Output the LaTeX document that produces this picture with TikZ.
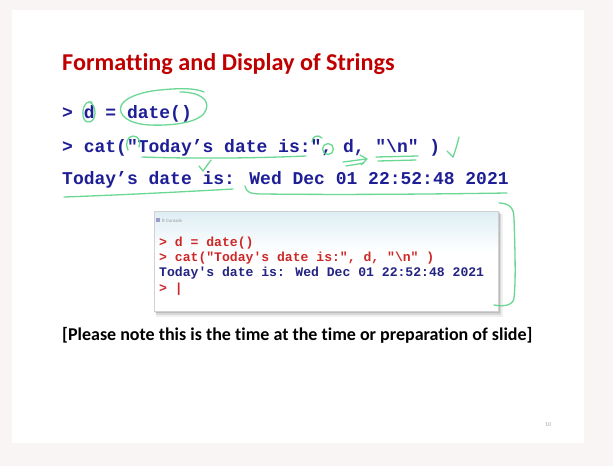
\documentclass[tikz,border=0pt]{standalone}
\usepackage{fontspec}
\setmainfont{Carlito}[Ligatures={TeX,NoCommon}]
\newfontfamily\codefont{Liberation Mono}

\definecolor{slidered}{RGB}{192,0,0}
\definecolor{codeblue}{RGB}{30,30,150}
\definecolor{pengreen}{RGB}{90,212,135}
\definecolor{conred}{RGB}{205,40,40}
\definecolor{conblue}{RGB}{35,35,130}
\definecolor{marginbg}{RGB}{250,245,245}
\definecolor{bartop}{RGB}{222,238,244}

\begin{document}
\begin{tikzpicture}[x=1pt,y=-1pt,
  txt/.style={inner sep=0pt, anchor=base west},
  codeline/.style={txt, font=\codefont\bfseries\fontsize{18}{20}\selectfont, text=codeblue},
  conline/.style={txt, font=\codefont\bfseries\fontsize{13.1}{15}\selectfont},
  pen/.style={draw=pengreen, line width=1.3pt, line cap=round, line join=round, opacity=0.9}
]
\useasboundingbox (0,0) rectangle (613,466);

% page and slide
\fill[marginbg] (0,0) rectangle (613,466);
\fill[white] (12,10) rectangle (584,443);

% title
\node[txt, font=\bfseries\fontsize{24.2}{28}\selectfont, text=slidered] (title) at (62,70)
  {Formatting and Display of Strings};

% code lines
\node[codeline] (l1) at (62,118) {> d = date()};
\node[codeline] (l2) at (62,152) {> cat("Today’s date is:", d, "\textbackslash n" )};
\node[codeline] (l3) at (62,184) {Today’s date is: Wed Dec 01 22:52:48 2021};

% console window with its drop shadow
\fill[black, opacity=0.06] (156,214) rectangle (503,317);
\fill[black, opacity=0.10] (156,213) rectangle (501,315);
\fill[black, opacity=0.12] (155,212) rectangle (500,313);
\fill[white] (154,211) rectangle (498,311);
\shade[top color=bartop, bottom color=white] (154,211) rectangle (498,252);
\draw[black!18, line width=0.4pt] (154,211) rectangle (498,311);
\fill[conblue!45] (156,218) rectangle (160,222);
\node[txt, font=\fontsize{5}{6}\selectfont, text=black!40] (contitle) at (162,222) {R Console};

\node[conline, text=conred] (c1) at (159,246) {> d = date()};
\node[conline, text=conred] (c2) at (159,261) {> cat("Today's date is:", d, "\textbackslash n" )};
\node[conline, text=conblue] (c3) at (159,276) {Today's date is: Wed Dec 01 22:52:48 2021};
\node[conline, text=conred] (c4) at (159,292) {> |};

% note and page number
\node[txt, font=\bfseries\fontsize{18}{21}\selectfont] (note) at (62,340)
  {[Please note this is the time at the time or preparation of slide]};
\node[txt, font=\fontsize{6}{7}\selectfont, text=black!35] (pgno) at (545,426) {10};

% pen marks
\draw[pen] (92,102) .. controls (84,100) and (81,112) .. (84,119) .. controls (87,125) and (95,122) .. (95,113) .. controls (95,108) and (93,104) .. (90,102);
\draw[pen] (180,92) .. controls (200,92) and (210,100) .. (206,110) .. controls (202,122) and (175,126) .. (150,125) .. controls (128,124) and (118,115) .. (121,106) .. controls (124,98) and (140,92) .. (160,90) .. controls (180,88) and (195,88) .. (204,92);
\draw[pen] (128,150) .. controls (125,145) and (127,136) .. (133,136) .. controls (139,136) and (141,142) .. (139,147);
\draw[pen] (142,157) .. controls (200,159) and (260,158) .. (306,156);
\draw[pen] (211,160) -- (203,171) -- (199,166);
\draw[pen] (312,142) .. controls (312,136) and (318,134) .. (322,138);
\draw[pen] (328,149) circle[radius=5.5];
\draw[pen] (343,162) -- (366,159);
\draw[pen] (346,166) -- (364,163);
\draw[pen] (360,155) -- (367,159) -- (361,165);
\draw[pen] (376,157) -- (418,156);
\draw[pen] (378,161) -- (416,160);
\draw[pen] (459,137) .. controls (457,145) and (455,152) .. (453,157);
\draw[pen] (447,151) -- (453,157);
\draw[pen] (64,197) .. controls (120,195) and (180,192) .. (233,189);
\draw[pen] (245,186) .. controls (246,192) and (250,194) .. (262,194) .. controls (350,195) and (440,194) .. (507,193);
\draw[pen] (499,203) .. controls (508,203) and (514,207) .. (514,218) .. controls (515,250) and (516,280) .. (514,298) .. controls (513,305) and (505,307) .. (494,305);
\end{tikzpicture}
\end{document}
